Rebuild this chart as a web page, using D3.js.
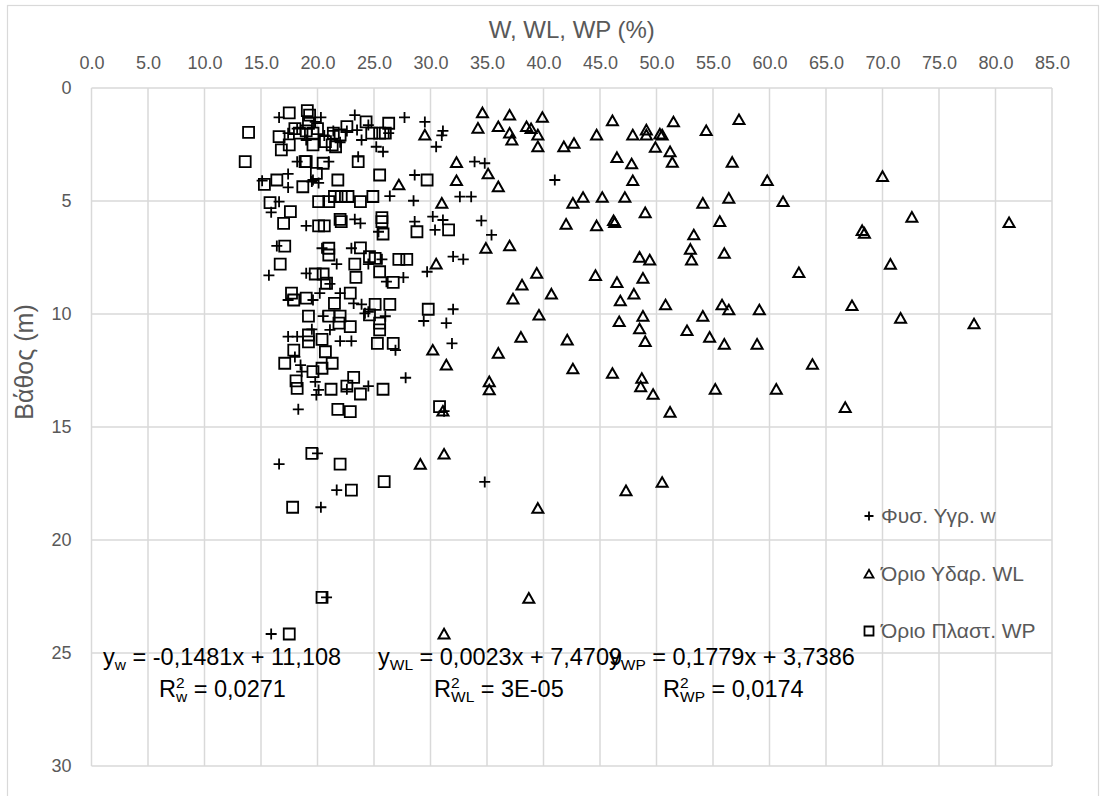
<!DOCTYPE html>
<html>
<head>
<meta charset="utf-8">
<script src="https://cdn.jsdelivr.net/npm/d3@7"></script>
<style>
  html, body { margin: 0; padding: 0; background: #fff; }
  svg { display: block; font-family: "Liberation Sans", Arial, sans-serif; }
</style>
</head>
<body>
<svg id="chart" width="1107" height="796"></svg>
<script>
// Natural moisture content w (%) against depth (m)
const wPoints = [
  [16.6,1.3],[17.4,2.0],[18.2,1.8],[19.0,2.3],[19.8,1.5],[20.3,1.3],[20.6,2.1],[21.4,1.9],[22.0,2.4],
  [22.6,1.9],[23.3,1.2],[23.5,1.86],[23.9,2.3],[24.5,1.64],[25.2,2.6],[25.8,2.82],[26.3,2.0],[27.7,1.3],
  [29.5,1.5],[31.1,1.9],[31.0,2.1],[30.5,2.6],
  [18.2,3.26],[17.4,3.8],[15.1,4.1],[17.4,4.4],[19.6,4.07],[21.0,3.26],[19.5,4.14],[20.1,4.2],[23.6,3.04],
  [28.6,3.85],[33.9,3.26],[34.8,3.33],[41.0,4.07],
  [16.6,5.03],[15.9,5.5],[26.4,4.78],[28.5,4.99],[32.6,4.81],[33.6,4.81],[19.0,6.1],[23.3,5.81],[23.8,5.99],
  [25.4,6.36],[28.6,5.91],[30.2,5.69],[31.1,5.84],[30.4,6.28],[34.5,5.87],[35.4,6.5],
  [16.4,6.99],[20.4,7.09],[23.0,7.09],[21.7,7.79],[24.5,7.79],[25.7,7.58],[32.0,7.46],[32.9,7.58],[29.7,8.13],
  [15.7,8.29],[19.0,8.2],[21.1,8.67],[26.1,8.57],[27.6,8.38],
  [17.4,9.38],[19.6,9.38],[20.2,9.08],[22.0,9.08],[23.2,9.53],[23.9,9.57],[24.5,9.9],[32.0,9.79],[20.5,10.09],
  [26.0,10.1],[24.2,9.97],[29.4,10.31],[31.4,10.4],
  [19.5,10.68],[21.1,10.7],[17.4,11.0],[18.2,11.0],[22.0,11.2],[23.0,11.2],[26.9,11.6],[31.9,11.3],[18.0,11.9],
  [18.5,12.26],[18.6,12.55],
  [19.9,13.58],[19.8,13.0],[20.1,13.36],[22.6,13.33],[24.5,13.19],[27.8,12.82],[18.3,14.22],[31.2,14.3],
  [20.0,16.17],[16.6,16.64],[34.8,17.43],[21.7,17.79],[20.3,18.55],[20.8,22.54],[15.9,24.16]
];

// Liquid limit WL (%) against depth (m)
const wlPoints = [
  [34.6,1.1],[37.0,1.2],[39.9,1.3],[46.1,1.45],[51.5,1.5],[57.3,1.4],
  [34.2,1.78],[36.0,1.71],[37.0,2.0],[37.2,2.3],[38.5,1.71],[38.9,1.8],[39.5,2.08],[39.5,2.6],[29.5,2.08],
  [41.8,2.6],[42.7,2.45],[44.7,2.08],[47.9,2.08],[49.1,1.86],[49.1,2.08],[50.3,2.04],[50.5,2.08],[54.4,1.89],
  [49.9,2.63],[51.2,2.82],[51.4,3.29],[46.5,3.08],[47.8,3.36],[56.7,3.29],[47.9,4.1],[59.8,4.1],[70.0,3.92],
  [32.3,3.3],[32.3,4.1],[35.1,3.8],[36.0,4.37],[27.2,4.29],
  [42.6,5.1],[43.5,4.84],[45.2,4.84],[47.2,4.84],[54.1,5.1],[56.4,4.88],[61.2,5.03],[31.0,5.1],
  [49.0,5.52],[42.0,6.03],[44.7,6.1],[46.2,5.87],[46.3,5.96],[55.6,5.91],[72.6,5.72],[81.2,5.96],[68.2,6.31],[68.4,6.43],
  [53.3,6.5],[53.0,7.14],[53.1,7.61],[56.0,7.32],[48.5,7.49],[49.4,7.61],[34.9,7.09],[37.0,6.99],[30.5,7.79],[70.7,7.8],
  [62.6,8.17],[44.6,8.3],[46.5,8.61],[48.8,8.42],[39.4,8.2],[38.1,8.72],[40.7,9.12],[37.3,9.34],
  [46.8,9.42],[48.0,9.12],[50.8,9.6],[55.8,9.6],[56.4,9.82],[59.1,9.82],[67.3,9.63],[39.6,10.05],
  [46.7,10.34],[48.8,10.1],[48.5,10.66],[54.1,10.1],[52.7,10.74],[54.7,11.03],[56.0,11.34],[58.9,11.34],[71.6,10.19],[78.1,10.44],
  [42.1,11.15],[49.0,11.22],[38.0,11.03],[36.0,11.74],[30.2,11.6],[31.4,12.26],
  [42.6,12.43],[46.1,12.63],[48.7,12.85],[48.6,13.22],[49.7,13.56],[51.2,14.35],[55.2,13.33],[60.6,13.33],[63.8,12.23],[66.7,14.14],
  [35.2,13.0],[35.2,13.36],[31.1,14.3],
  [29.1,16.65],[31.2,16.2],[50.5,17.45],[47.3,17.82],[39.5,18.6],[38.7,22.58],[31.2,24.16]
];

// Plastic limit WP (%) against depth (m)
const wpPoints = [
  [13.9,1.96],[13.6,3.26],[16.6,2.15],[16.8,2.74],[17.5,2.52],[17.5,1.1],[19.1,1.0],[19.3,1.2],[18.0,1.8],
  [18.4,2.0],[19.0,1.9],[19.2,1.56],[19.6,2.0],[19.6,2.52],[20.7,2.37],[21.4,2.0],[21.3,2.52],[21.6,2.6],
  [22.0,2.08],[22.6,1.71],[24.8,2.0],[25.5,2.0],[26.0,2.0],[26.3,1.56],[24.3,1.5],[20.0,1.8],
  [18.9,3.26],[15.3,4.26],[16.4,4.07],[18.7,4.37],[19.0,3.26],[20.5,3.33],[19.9,3.78],[23.6,3.26],[21.8,4.07],
  [25.5,3.85],[29.7,4.07],
  [15.8,5.07],[17.6,5.47],[17.0,5.99],[20.1,6.1],[20.1,5.03],[21.0,5.03],[21.5,4.8],[22.1,4.8],[22.7,4.8],
  [23.8,5.03],[24.9,4.8],
  [20.6,6.1],[22.0,5.81],[22.1,5.91],[25.7,5.74],[25.7,5.91],[25.8,6.46],[28.8,6.36],[31.6,6.28],
  [17.1,7.0],[16.7,7.79],[21.0,7.09],[21.0,7.39],[23.8,7.07],[23.3,7.79],[24.6,7.46],[25.1,7.54],[27.2,7.58],[27.9,7.58],
  [19.8,8.23],[20.5,8.23],[20.8,8.64],[23.4,8.38],[25.5,8.13],[26.7,8.6],
  [17.7,9.08],[17.9,9.38],[19.0,9.3],[22.9,9.08],[21.5,9.53],[25.1,9.57],[26.4,9.57],[29.8,9.79],
  [19.2,10.09],[21.0,10.09],[22.0,10.09],[21.9,10.4],[22.9,10.56],[25.5,10.4],[25.5,10.7],[24.6,10.04],
  [19.2,10.93],[19.2,11.23],[20.4,11.12],[25.3,11.3],[26.7,11.3],
  [17.9,11.6],[20.7,11.67],[17.1,12.18],[21.3,12.18],[19.6,12.55],[20.4,12.4],
  [18.1,12.96],[18.2,13.29],[23.2,12.8],[22.6,13.19],[23.8,13.54],[25.8,13.33],[21.2,13.33],
  [21.8,14.22],[22.9,14.32],[30.8,14.1],
  [19.5,16.17],[22.0,16.64],[25.9,17.42],[23.0,17.79],[17.8,18.55],[20.4,22.54],[17.5,24.16]
];

const xTicks = d3.range(0, 85.1, 5);
const yTicks = [0, 5, 10, 15, 20, 25, 30];

const xTitle = "W, WL, WP (%)";
const yTitle = "Βάθος (m)";
const legendLabels = ["Φυσ. Υγρ. w", "Όριο Υδαρ. WL", "Όριο Πλαστ. WP"];

// Trendline labels per series
const eqLabels = [
  { name: "w",  eq: "= -0,1481x + 11,108", r2: "= 0,0271" },
  { name: "WL", eq: "= 0,0023x + 7,4709",  r2: "= 3E-05" },
  { name: "WP", eq: "= 0,1779x + 3,7386",  r2: "= 0,0174" }
];

const svg = d3.select("#chart");
const W = 1107, H = 796;
const plot = { left: 91.5, right: 1052, top: 88, bottom: 766 };

svg.append("rect").attr("width", W).attr("height", H).attr("fill", "#fff");
// chart area frame
svg.append("rect")
  .attr("x", 7.5).attr("y", 5.5).attr("width", 1091).attr("height", 840)
  .attr("fill", "none").attr("stroke", "#d9d9d9").attr("stroke-width", 1.2);

const x = d3.scaleLinear().domain([0, 85]).range([plot.left, plot.right]);
const y = d3.scaleLinear().domain([0, 30]).range([plot.top, plot.bottom]);

const grid = svg.append("g").attr("stroke", "#d9d9d9").attr("stroke-width", 1.5);
grid.selectAll("line.v").data(xTicks).join("line")
  .attr("x1", d => x(d)).attr("x2", d => x(d))
  .attr("y1", plot.top).attr("y2", plot.bottom);
grid.selectAll("line.h").data(yTicks).join("line")
  .attr("x1", plot.left).attr("x2", plot.right)
  .attr("y1", d => y(d)).attr("y2", d => y(d));

const tickColor = "#595959";

const gx = svg.append("g").attr("transform", `translate(0,${plot.top})`)
  .call(d3.axisTop(x).tickValues(xTicks).tickFormat(d3.format(".1f")).tickSize(0).tickPadding(19));
gx.select(".domain").remove();
gx.selectAll("text").attr("fill", tickColor).attr("font-size", 18)
  .attr("font-family", "Liberation Sans, Arial, sans-serif");

const gy = svg.append("g").attr("transform", `translate(${plot.left},0)`)
  .call(d3.axisLeft(y).tickValues(yTicks).tickFormat(d3.format("d")).tickSize(0).tickPadding(20));
gy.select(".domain").remove();
gy.selectAll("text").attr("fill", tickColor).attr("font-size", 18)
  .attr("font-family", "Liberation Sans, Arial, sans-serif");

svg.append("text")
  .attr("x", (plot.left + plot.right) / 2).attr("y", 38)
  .attr("text-anchor", "middle").attr("fill", tickColor).attr("font-size", 24)
  .text(xTitle);

svg.append("text")
  .attr("transform", `translate(33,362) rotate(-90)`)
  .attr("text-anchor", "middle").attr("fill", tickColor).attr("font-size", 25)
  .text(yTitle);

// marker shapes
const plusPath = s => `M${-s},0H${s}M0,${-s}V${s}`;
const squarePath = s => `M${-s},${-s}H${s}V${s}H${-s}Z`;
const trianglePath = s => `M0,${-s * 0.95}L${s},${s * 0.8}H${-s}Z`;

function drawSeries(data, pathStr, sw) {
  svg.append("g").selectAll("path").data(data).join("path")
    .attr("transform", d => `translate(${x(d[0])},${y(d[1])})`)
    .attr("d", pathStr)
    .attr("fill", "none").attr("stroke", "#000").attr("stroke-width", sw);
}
drawSeries(wlPoints, trianglePath(5.5), 2);
drawSeries(wpPoints, squarePath(5.5), 1.8);
drawSeries(wPoints, plusPath(5.5), 1.8);

// legend
const legendMarks = [plusPath(4.5), trianglePath(4.5), squarePath(4.5)];
const legendY = [516, 574, 631];
const lg = svg.append("g");
legendLabels.forEach((lab, i) => {
  lg.append("path").attr("transform", `translate(869,${legendY[i]})`)
    .attr("d", legendMarks[i]).attr("fill", "none").attr("stroke", "#000").attr("stroke-width", 1.8);
  lg.append("text").attr("x", 881).attr("y", legendY[i]).attr("dy", "0.35em")
    .attr("fill", tickColor).attr("font-size", 21).text(lab);
});

// trendline equations and R² values
const eqX = [103, 378, 609];
const r2X = [159, 434, 663];
const eqG = svg.append("g").attr("fill", "#000").attr("font-size", 23.5);
eqLabels.forEach((e, i) => {
  const t = eqG.append("text").attr("x", eqX[i]).attr("y", 665);
  t.append("tspan").text("y");
  t.append("tspan").attr("font-size", 15.5).attr("dy", 5).text(e.name);
  t.append("tspan").attr("dy", -5).text(" " + e.eq);

  const r = eqG.append("text").attr("x", r2X[i]).attr("y", 697);
  r.append("tspan").text("R");
  r.append("tspan").attr("font-size", 15.5).attr("dy", -9).text("2");
  r.append("tspan").attr("font-size", 15.5).attr("dy", 14).attr("dx", -8.6).text(e.name);
  r.append("tspan").attr("dy", -5).text(" " + e.r2);
});
</script>
</body>
</html>
